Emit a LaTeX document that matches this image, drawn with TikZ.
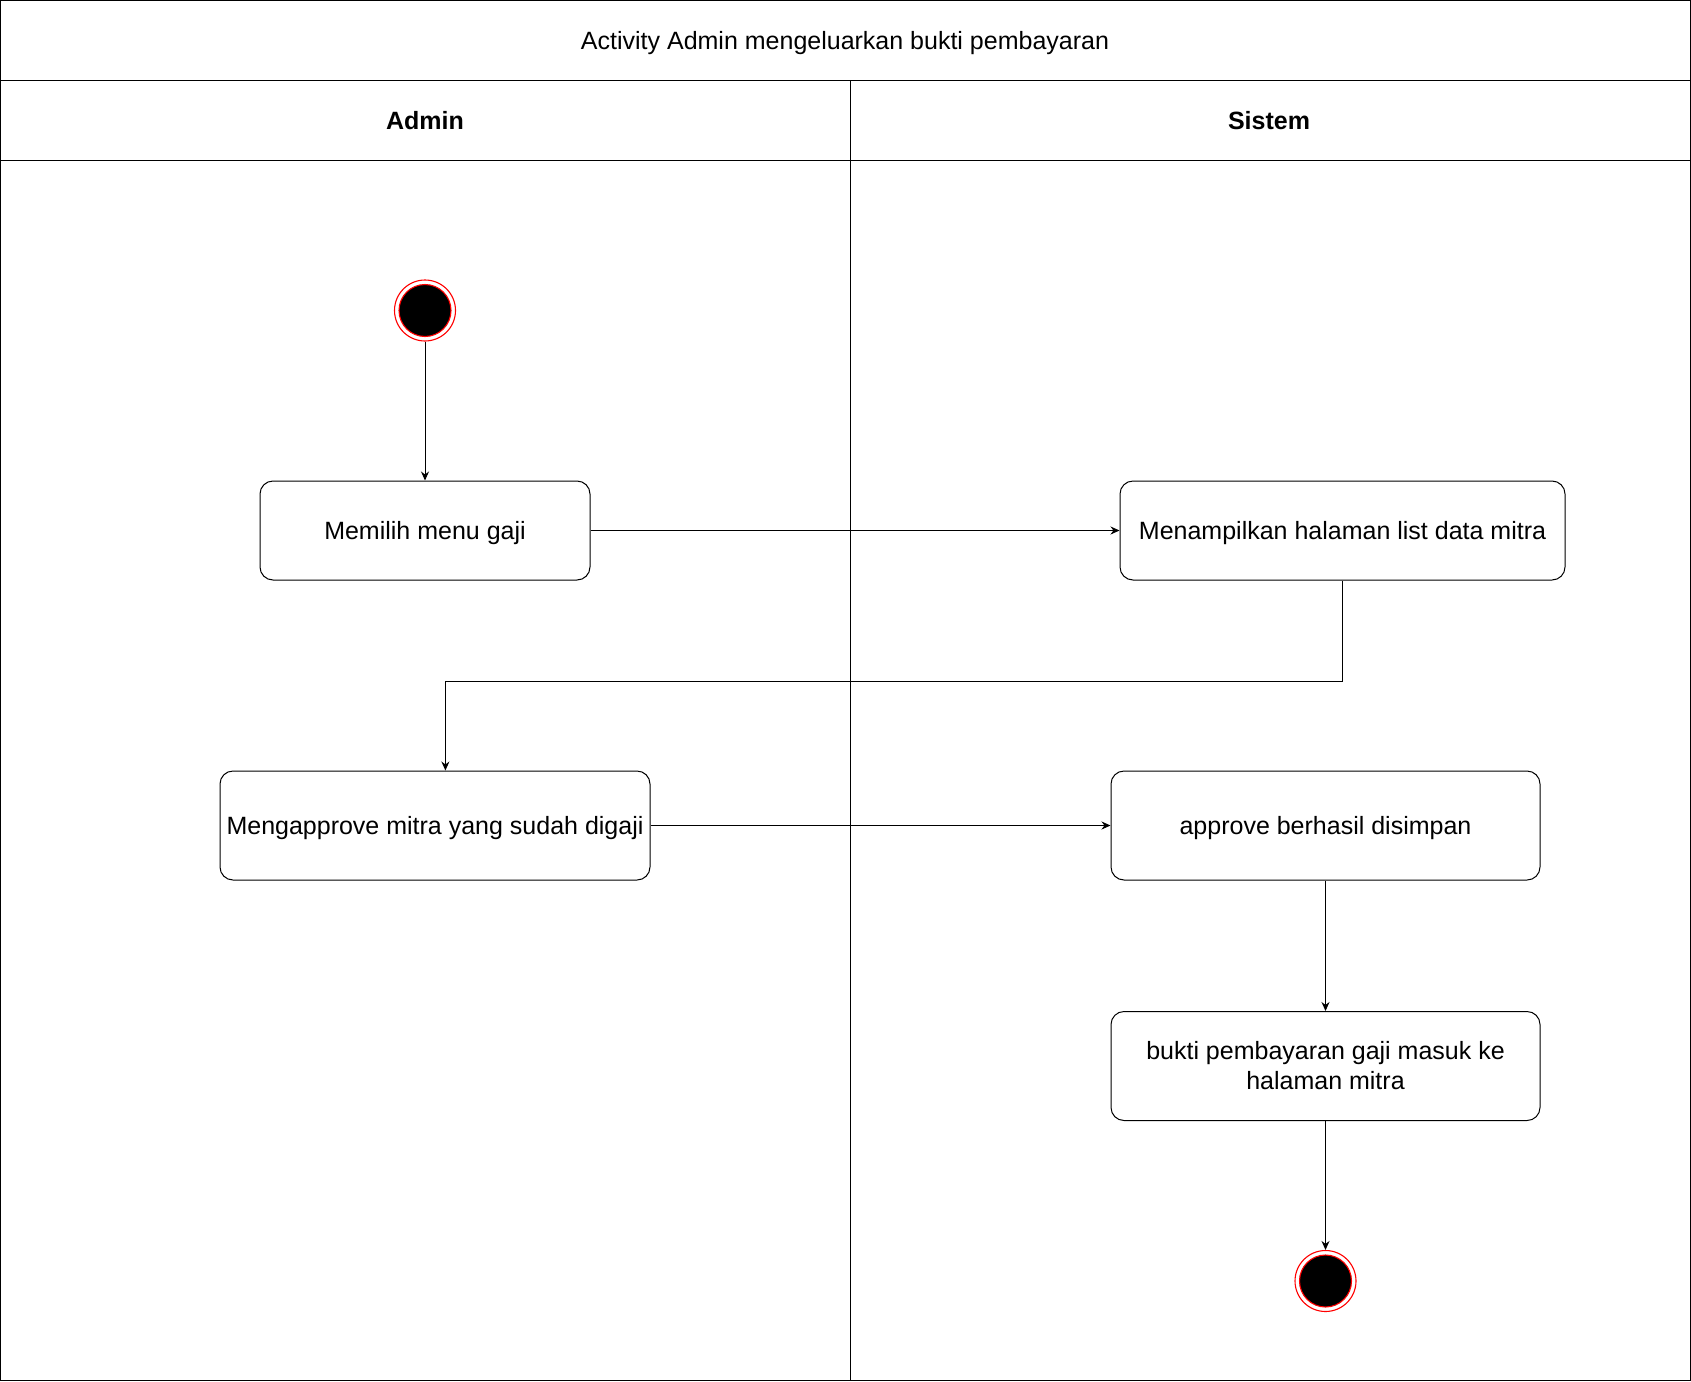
\documentclass[tikz,border=0pt]{standalone}
\usepackage{fontspec}
\setmainfont{Liberation Sans}
\usetikzlibrary{arrows.meta,positioning,calc}
\tikzset{
  lane/.style={draw=black,line width=1pt},
  lanehead/.style={font=\fontsize{25}{30}\selectfont\bfseries},
  actbox/.style={draw=black,rounded corners=13pt,fill=white,align=center,inner sep=0pt,text depth=0pt,line width=1pt,font=\fontsize{25}{30}\selectfont},
  statedot/.style={circle,draw=red,fill=white,minimum size=61pt,inner sep=0pt,line width=1.1pt,
    path picture={\draw[red,fill=black,line width=1.1pt] (path picture bounding box.center) circle (26pt);}},
  flow/.style={-{Stealth[length=9pt,width=8pt]},line width=1pt},
}
\begin{document}
\begin{tikzpicture}[x=1pt,y=-1pt]
  \useasboundingbox (0,0) rectangle (1691,1381);
  % swimlanes
  \draw[lane] (0.5,0.5) rectangle (1690.5,1380.5);
  \draw[lane] (0.5,80) -- (1690.5,80);
  \draw[lane] (0.5,160.5) -- (1690.5,160.5);
  \draw[lane] (850,80) -- (850,1380.5);
  \node[font=\fontsize{25}{30}\selectfont] (title) at (845,43) {Activity Admin mengeluarkan bukti pembayaran};
  \node[lanehead] (admin) at (425,121) {Admin};
  \node[lanehead] (sistem) at (1269,121) {Sistem};
  % activities
  \node[statedot] (start) at (425,310.5) {};
  \node[actbox,minimum width=330,minimum height=99] (menu) at (425,530.5) {Memilih menu gaji};
  \node[actbox,minimum width=445,minimum height=99] (tampil) at (1342.5,530.5) {Menampilkan halaman list data mitra};
  \node[actbox,minimum width=430,minimum height=109] (approve) at (435,825.5) {Mengapprove mitra yang sudah digaji};
  \node[actbox,minimum width=429,minimum height=109] (simpan) at (1325.5,825.5) {approve berhasil disimpan};
  \node[actbox,text depth=,minimum width=429,minimum height=109] (bukti) at (1325.5,1066) {bukti pembayaran gaji masuk ke\\halaman mitra};
  \node[statedot] (finish) at (1325.5,1281) {};
  % flows
  \draw[flow] (start) -- (menu);
  \draw[flow] (menu) -- (tampil);
  \draw[flow] (tampil.south) -- ++(0,100.5) -| ([xshift=10.4]approve.north);
  \draw[flow] (approve) -- (simpan);
  \draw[flow] (simpan) -- (bukti);
  \draw[flow] (bukti) -- (finish);
\end{tikzpicture}
\end{document}
